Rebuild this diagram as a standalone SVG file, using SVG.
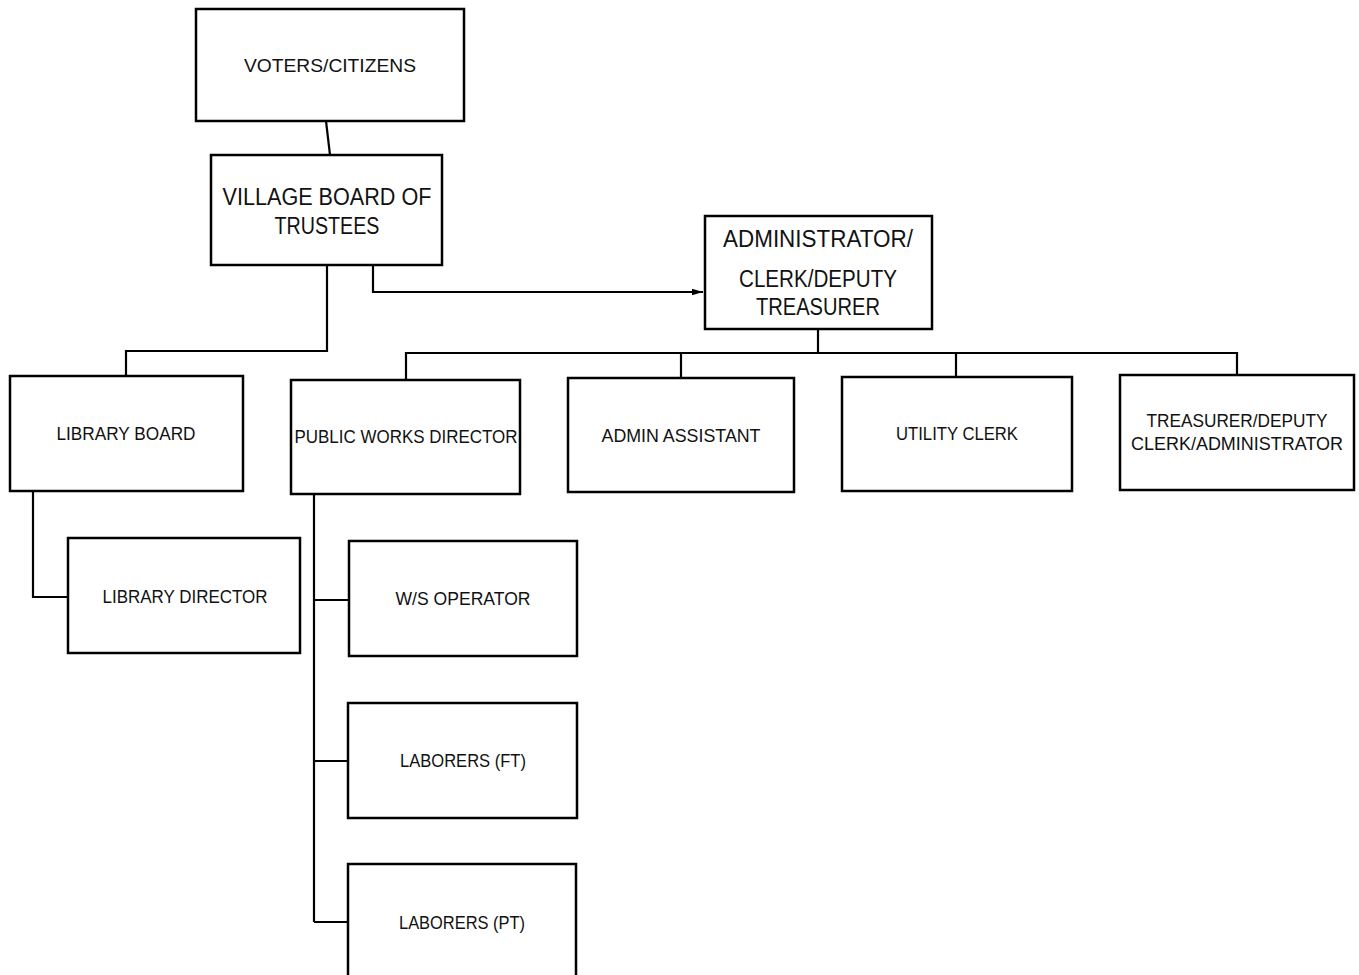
<svg xmlns="http://www.w3.org/2000/svg" width="1359" height="975" viewBox="0 0 1359 975">
<style>
.box{fill:#fff;stroke:#000;stroke-width:2.5}
.ln{fill:none;stroke:#000;stroke-width:2.2}
.t{font-family:"Liberation Sans",Arial,sans-serif;font-size:18.5px;fill:#111;text-anchor:middle}
.L{font-size:23px}
</style>
<defs>
<marker id="ah" viewBox="0 0 10 10" refX="10" refY="5" markerWidth="5" markerHeight="5" orient="auto"><path d="M0,2 L10,5 L0,8 z" fill="#000"/></marker>
</defs>
<rect width="1359" height="975" fill="#fff"/>
<g id="connectors">
<line class="ln" x1="326" y1="121" x2="330" y2="155"/>
<polyline class="ln" points="327,265 327,351 126,351 126,376"/>
<polyline class="ln" points="373,265 373,292 703,292" stroke-width="1.6" marker-end="url(#ah)"/>
<line class="ln" x1="818" y1="329" x2="818" y2="353"/>
<polyline class="ln" points="406,380 406,353 1237,353 1237,375"/>
<line class="ln" x1="681" y1="353" x2="681" y2="378"/>
<line class="ln" x1="956" y1="353" x2="956" y2="377"/>
<polyline class="ln" points="33,491 33,597 68,597"/>
<line class="ln" x1="314" y1="494" x2="314" y2="922"/>
<line class="ln" x1="314" y1="600" x2="349" y2="600"/>
<line class="ln" x1="314" y1="761" x2="348" y2="761"/>
<line class="ln" x1="314" y1="922" x2="348" y2="922"/>
</g>
<g id="voters"><rect class="box" x="196" y="9" width="268" height="112"/><text class="t" x="330" y="72" textLength="172" lengthAdjust="spacingAndGlyphs">VOTERS/CITIZENS</text></g>
<g id="board"><rect class="box" x="211" y="155" width="231" height="110"/><text class="t L" x="327" y="205" textLength="209" lengthAdjust="spacingAndGlyphs">VILLAGE BOARD OF</text><text class="t L" x="327" y="234" textLength="105" lengthAdjust="spacingAndGlyphs">TRUSTEES</text></g>
<g id="admin"><rect class="box" x="705" y="216" width="227" height="113"/><text class="t L" x="818" y="247" textLength="190" lengthAdjust="spacingAndGlyphs">ADMINISTRATOR/</text><text class="t L" x="818" y="287" textLength="158" lengthAdjust="spacingAndGlyphs">CLERK/DEPUTY</text><text class="t L" x="818" y="315" textLength="124" lengthAdjust="spacingAndGlyphs">TREASURER</text></g>
<g id="libboard"><rect class="box" x="10" y="376" width="233" height="115"/><text class="t" x="126" y="440" textLength="139" lengthAdjust="spacingAndGlyphs">LIBRARY BOARD</text></g>
<g id="pwd"><rect class="box" x="291" y="380" width="229" height="114"/><text class="t" x="406" y="443" textLength="223" lengthAdjust="spacingAndGlyphs">PUBLIC WORKS DIRECTOR</text></g>
<g id="assistant"><rect class="box" x="568" y="378" width="226" height="114"/><text class="t" x="681" y="442" textLength="159" lengthAdjust="spacingAndGlyphs">ADMIN ASSISTANT</text></g>
<g id="utility"><rect class="box" x="842" y="377" width="230" height="114"/><text class="t" x="957" y="440" textLength="122" lengthAdjust="spacingAndGlyphs">UTILITY CLERK</text></g>
<g id="treasurer"><rect class="box" x="1120" y="375" width="234" height="115"/><text class="t" x="1237" y="427" textLength="181" lengthAdjust="spacingAndGlyphs">TREASURER/DEPUTY</text><text class="t" x="1237" y="450" textLength="212" lengthAdjust="spacingAndGlyphs">CLERK/ADMINISTRATOR</text></g>
<g id="libdir"><rect class="box" x="68" y="538" width="232" height="115"/><text class="t" x="185" y="603" textLength="165" lengthAdjust="spacingAndGlyphs">LIBRARY DIRECTOR</text></g>
<g id="ws"><rect class="box" x="349" y="541" width="228" height="115"/><text class="t" x="463" y="605" textLength="135" lengthAdjust="spacingAndGlyphs">W/S OPERATOR</text></g>
<g id="labft"><rect class="box" x="348" y="703" width="229" height="115"/><text class="t" x="463" y="767" textLength="126" lengthAdjust="spacingAndGlyphs">LABORERS (FT)</text></g>
<g id="labpt"><rect class="box" x="348" y="864" width="228" height="130"/><text class="t" x="462" y="929" textLength="126" lengthAdjust="spacingAndGlyphs">LABORERS (PT)</text></g>
</svg>
